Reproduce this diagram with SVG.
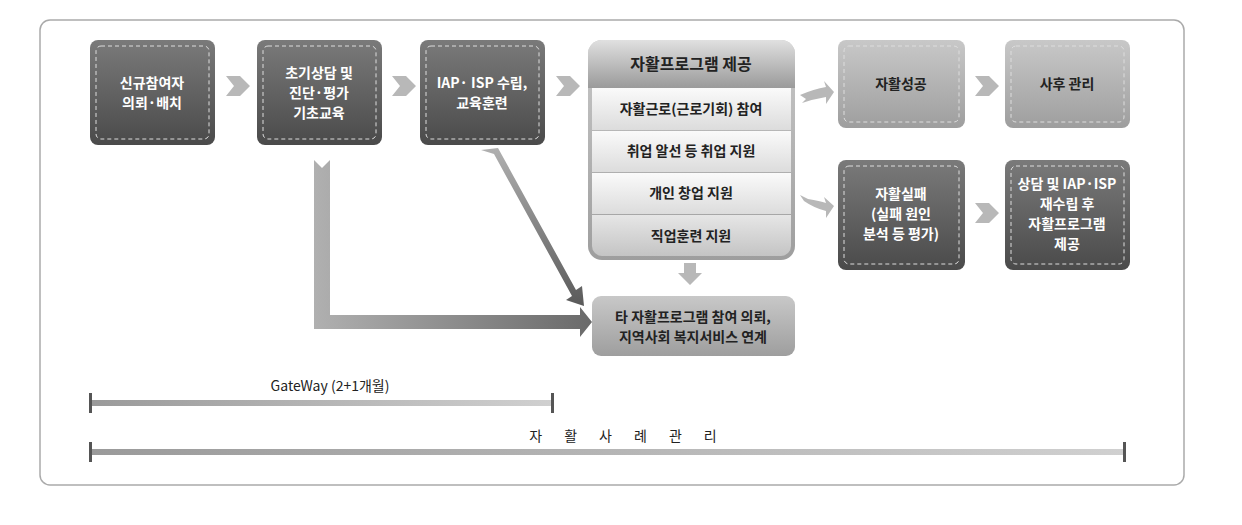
<svg xmlns="http://www.w3.org/2000/svg" width="1242" height="525" viewBox="0 0 1242 525">
<defs>
<linearGradient id="dk" x1="0" y1="0" x2="0" y2="1"><stop offset="0" stop-color="#7a7a7a"/><stop offset="1" stop-color="#4a4a4a"/></linearGradient>
<linearGradient id="lt" x1="0" y1="0" x2="0" y2="1"><stop offset="0" stop-color="#c8c8c8"/><stop offset="1" stop-color="#9e9e9e"/></linearGradient>
<linearGradient id="hd" x1="0" y1="0" x2="0" y2="1"><stop offset="0" stop-color="#e0e0e0"/><stop offset="1" stop-color="#9a9a9a"/></linearGradient>
<linearGradient id="row" x1="0" y1="0" x2="0" y2="1"><stop offset="0" stop-color="#fafafa"/><stop offset="1" stop-color="#dcdcdc"/></linearGradient>
<linearGradient id="row2" x1="0" y1="0" x2="0" y2="1"><stop offset="0" stop-color="#e6e6e6"/><stop offset="1" stop-color="#c4c4c4"/></linearGradient>
<linearGradient id="hz" x1="0" y1="0" x2="1" y2="0"><stop offset="0" stop-color="#b0b0b0"/><stop offset="1" stop-color="#6a6a6a"/></linearGradient>
<linearGradient id="dg" x1="0" y1="0" x2="0" y2="1"><stop offset="0" stop-color="#b0b0b0"/><stop offset="1" stop-color="#5a5a5a"/></linearGradient>
<linearGradient id="tl" x1="0" y1="0" x2="1" y2="0"><stop offset="0" stop-color="#9a9a9a"/><stop offset="1" stop-color="#d0d0d0"/></linearGradient>
</defs>
<style>
text{font-family:"Noto Sans CJK KR","Liberation Sans",sans-serif;font-size:14px;text-anchor:middle;font-weight:bold}
.w{fill:#fff}.d{fill:#222}
.dash{fill:none;stroke:#ddd;stroke-dasharray:4 3;stroke-width:1}
.chev{fill:#b8b8b8}
</style>
<rect x="40" y="20" width="1144" height="465" rx="10" fill="#fff" stroke="#aaa" stroke-width="1.5"/>
<g id="connectors">
<path class="chev" d="M226,76 h14 l10,10 l-10,10 h-14 l8,-10z"/>
<path class="chev" d="M392,76 h14 l10,10 l-10,10 h-14 l8,-10z"/>
<path class="chev" d="M556,76 h14 l10,10 l-10,10 h-14 l8,-10z"/>
<path class="chev" d="M975,76 h14 l10,10 l-10,10 h-14 l8,-10z"/>
<path class="chev" d="M975,203 h14 l10,10 l-10,10 h-14 l8,-10z"/>
<path class="chev" d="M800,95 q14,-6 26,-8 l-2,-6 l10,11 l-8,12 l0,-7 q-12,2 -24,6 l4,-4z"/>
<path class="chev" d="M800,195 l8,4 q12,2 18,4 l-2,-6 l10,9 l-8,12 l0,-7 q-12,-3 -22,-10z"/>
<path class="chev" d="M684,263 h12 v10 h6 l-12,12 l-12,-12 h6z"/>
<path fill="url(#hz)" d="M314,160 l8,8 l8,-8 v155 h250 v-8 l12,15 l-12,15 v-8 h-266z"/>
<path fill="url(#dg)" d="M481,150 l17,-2 l78,142 l6,-4 l2,20 l-18,-6 l6,-4 l-78,-142z"/>
</g>
<g id="n1"><rect x="90" y="40" width="125" height="105" rx="8" fill="url(#dk)"/><rect class="dash" x="96" y="46" width="113" height="93" rx="5"/><text class="w" x="152" y="88">신규참여자</text><text class="w" x="152" y="108">의뢰·배치</text></g>
<g id="n2"><rect x="257" y="40" width="125" height="105" rx="8" fill="url(#dk)"/><rect class="dash" x="263" y="46" width="113" height="93" rx="5"/><text class="w" x="319" y="78">초기상담 및</text><text class="w" x="319" y="98">진단·평가</text><text class="w" x="319" y="118">기초교육</text></g>
<g id="n3"><rect x="420" y="40" width="125" height="105" rx="8" fill="url(#dk)"/><rect class="dash" x="426" y="46" width="113" height="93" rx="5"/><text class="w" x="482" y="88">IAP· ISP 수립,</text><text class="w" x="482" y="108">교육훈련</text></g>
<g id="program">
<rect x="588" y="40" width="207" height="220" rx="14" fill="url(#lt)"/>
<path d="M602,40 h179 a14,14 0 0 1 14,14 v34 h-207 v-34 a14,14 0 0 1 14,-14z" fill="url(#hd)"/>
<rect x="592" y="88" width="199" height="42" fill="url(#row)"/>
<rect x="592" y="131" width="199" height="41" fill="url(#row)"/>
<rect x="592" y="173" width="199" height="41" fill="url(#row)"/>
<path d="M592,215 h199 v31 a10,10 0 0 1 -10,10 h-179 a10,10 0 0 1 -10,-10z" fill="url(#row2)"/>
<text class="d" x="691" y="70" style="font-size:16px">자활프로그램 제공</text>
<text class="d" x="691" y="114">자활근로(근로기회) 참여</text>
<text class="d" x="691" y="156">취업 알선 등 취업 지원</text>
<text class="d" x="691" y="198">개인 창업 지원</text>
<text class="d" x="691" y="241">직업훈련 지원</text>
</g>
<g id="n5"><rect x="838" y="40" width="127" height="88" rx="8" fill="url(#lt)"/><rect class="dash" x="844" y="46" width="115" height="76" rx="5"/><text class="d" x="901" y="89">자활성공</text></g>
<g id="n6"><rect x="1005" y="40" width="125" height="88" rx="8" fill="url(#lt)"/><rect class="dash" x="1011" y="46" width="113" height="76" rx="5"/><text class="d" x="1067" y="89">사후 관리</text></g>
<g id="n7"><rect x="838" y="160" width="127" height="110" rx="8" fill="url(#dk)"/><rect class="dash" x="844" y="166" width="115" height="98" rx="5"/><text class="w" x="901" y="199">자활실패</text><text class="w" x="901" y="219">(실패 원인</text><text class="w" x="901" y="239">분석 등 평가)</text></g>
<g id="n8"><rect x="1005" y="160" width="125" height="110" rx="8" fill="url(#dk)"/><rect class="dash" x="1011" y="166" width="113" height="98" rx="5"/><text class="w" x="1067" y="189">상담 및 IAP·ISP</text><text class="w" x="1067" y="209">재수립 후</text><text class="w" x="1067" y="229">자활프로그램</text><text class="w" x="1067" y="249">제공</text></g>
<g id="n9"><rect x="592" y="296" width="203" height="60" rx="9" fill="url(#lt)"/><text class="d" x="693" y="322">타 자활프로그램 참여 의뢰,</text><text class="d" x="693" y="342">지역사회 복지서비스 연계</text></g>
<g id="timeline">
<text class="d" x="330" y="391" style="font-weight:normal;font-size:14px">GateWay (2+1개월)</text>
<rect x="90" y="400" width="463" height="6" fill="url(#tl)"/>
<rect x="89" y="393" width="3" height="20" fill="#555"/><rect x="551" y="393" width="3" height="20" fill="#555"/>
<text class="d" x="634" y="441" style="font-weight:normal;font-size:14px;letter-spacing:22px">자활사례관리</text>
<rect x="90" y="449" width="1035" height="6" fill="url(#tl)"/>
<rect x="89" y="442" width="3" height="20" fill="#555"/><rect x="1123" y="442" width="3" height="20" fill="#555"/>
</g>
</svg>
